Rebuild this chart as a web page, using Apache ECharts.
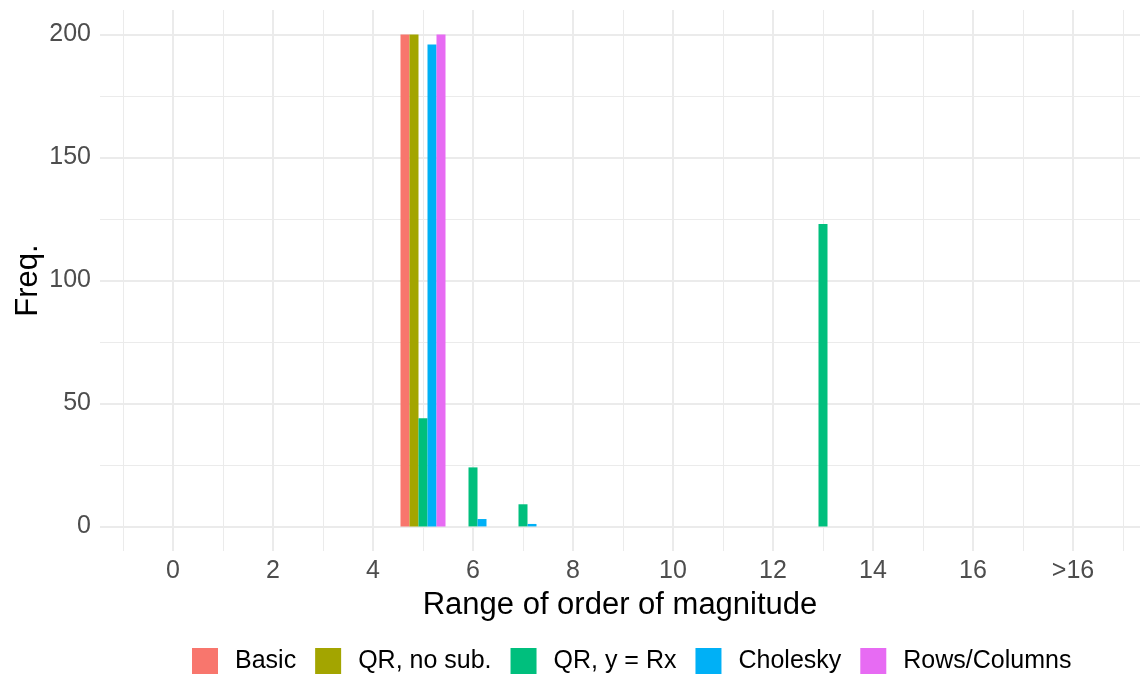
<!DOCTYPE html>
<html>
<head>
<meta charset="utf-8">
<script src="https://cdn.jsdelivr.net/npm/echarts@6/dist/echarts.min.js"></script>
<style>
  html, body { margin: 0; padding: 0; background: #fff; }
  #chart { width: 1140px; height: 678px; }
</style>
</head>
<body>
<div id="chart"></div>
<script>
// Bins of order of magnitude; bin 18 collects everything above 16
const bins = [0, 1, 2, 3, 4, 5, 6, 7, 8, 9, 10, 11, 12, 13, 14, 15, 16, 17, 18];
const xTickValues = [0, 2, 4, 6, 8, 10, 12, 14, 16, 18];
const xTickLabels = ['0', '2', '4', '6', '8', '10', '12', '14', '16', '>16'];
const yTickValues = [0, 50, 100, 150, 200];

// Frequencies per method, one value per bin
const seriesNames = ['Basic', 'QR, no sub.', 'QR, y = Rx', 'Cholesky', 'Rows/Columns'];
const basicFreq    = [0, 0, 0, 0, 0, 200, 0, 0, 0, 0, 0, 0, 0, 0, 0, 0, 0, 0, 0];
const qrNoSubFreq  = [0, 0, 0, 0, 0, 200, 0, 0, 0, 0, 0, 0, 0, 0, 0, 0, 0, 0, 0];
const qrRxFreq     = [0, 0, 0, 0, 0, 44, 24, 9, 0, 0, 0, 0, 0, 123, 0, 0, 0, 0, 0];
const choleskyFreq = [0, 0, 0, 0, 0, 196, 3, 1, 0, 0, 0, 0, 0, 0, 0, 0, 0, 0, 0];
const rowsColsFreq = [0, 0, 0, 0, 0, 200, 0, 0, 0, 0, 0, 0, 0, 0, 0, 0, 0, 0, 0];
const colors = ['#F8766D', '#A3A500', '#00BF7D', '#00B0F6', '#E76BF3'];

// Grid line positions (major and minor) in data units
const xMajorGrid = [0, 2, 4, 6, 8, 10, 12, 14, 16, 18];
const xMinorGrid = [-1, 1, 3, 5, 7, 9, 11, 13, 15, 17, 19];
const yMajorGrid = [0, 50, 100, 150, 200];
const yMinorGrid = [25, 75, 125, 175];

const allFreq = [basicFreq, qrNoSubFreq, qrRxFreq, choleskyFreq, rowsColsFreq];
const FONT = 'Liberation Sans, Arial, Helvetica, sans-serif';
const GRID_COLOR = '#EBEBEB';

const gridLines = [];
xMajorGrid.forEach(v => gridLines.push({ xAxis: v, lineStyle: { width: 2 } }));
xMinorGrid.forEach(v => gridLines.push({ xAxis: v, lineStyle: { width: 1 } }));
yMajorGrid.forEach(v => gridLines.push({ yAxis: v, lineStyle: { width: 2 } }));
yMinorGrid.forEach(v => gridLines.push({ yAxis: v, lineStyle: { width: 1 } }));

const barSeries = seriesNames.map((name, i) => ({
  name: name,
  type: 'bar',
  z: 3,
  barWidth: 9,
  barGap: '0%',
  itemStyle: { color: colors[i] },
  data: bins.map((b, j) => [b, allFreq[i][j]])
}));

const chart = echarts.init(document.getElementById('chart'), null, { renderer: 'canvas' });
chart.setOption({
  animation: false,
  backgroundColor: '#ffffff',
  textStyle: { fontFamily: FONT },
  grid: { left: 100, right: 0, top: 10, bottom: 127, containLabel: false },
  xAxis: {
    type: 'value',
    min: -1.46,
    max: 19.34,
    axisLine: { show: false },
    axisTick: { show: false },
    splitLine: { show: false },
    axisLabel: {
      customValues: xTickValues,
      formatter: v => xTickLabels[xTickValues.indexOf(v)],
      fontSize: 25,
      color: '#4D4D4D',
      fontFamily: FONT,
      margin: 8
    },
    name: 'Range of order of magnitude',
    nameLocation: 'middle',
    nameGap: 39,
    nameMoveOverlap: false,
    nameTextStyle: { fontSize: 31, color: '#000', fontFamily: FONT }
  },
  yAxis: {
    type: 'value',
    min: -10,
    max: 210,
    axisLine: { show: false },
    axisTick: { show: false },
    splitLine: { show: false },
    axisLabel: {
      customValues: yTickValues,
      fontSize: 25,
      color: '#4D4D4D',
      fontFamily: FONT,
      margin: 9
    },
    name: 'Freq.',
    nameLocation: 'middle',
    nameGap: 56,
    nameMoveOverlap: false,
    nameTextStyle: { fontSize: 31, color: '#000', fontFamily: FONT }
  },
  legend: {
    data: seriesNames,
    left: 192,
    top: 648,
    padding: 0,
    orient: 'horizontal',
    icon: 'rect',
    itemWidth: 26,
    itemHeight: 26,
    itemGap: 19,
    textStyle: { fontSize: 25, color: '#000', fontFamily: FONT, padding: [0, 0, 0, 12] }
  },
  series: [
    {
      name: 'grid',
      type: 'line',
      data: [],
      silent: true,
      z: 0,
      markLine: {
        z: 0,
        silent: true,
        symbol: ['none', 'none'],
        label: { show: false },
        lineStyle: { color: GRID_COLOR, type: 'solid' },
        data: gridLines
      }
    }
  ].concat(barSeries)
});
</script>
</body>
</html>
